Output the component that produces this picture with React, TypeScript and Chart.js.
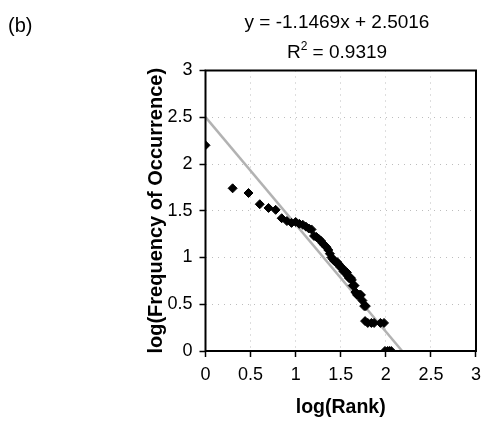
import React, { useEffect, useRef } from "react";
import { Chart, registerables } from "chart.js";

Chart.register(...registerables);

// log(Rank) values of the plotted points
const rankLog = [
  0, 0.301, 0.477, 0.602, 0.699, 0.778, 0.845, 0.903, 0.954, 1.0,
  1.041, 1.079, 1.114, 1.146, 1.176, 1.204, 1.23, 1.255, 1.279, 1.301,
  1.322, 1.342, 1.362, 1.38, 1.398, 1.415, 1.431, 1.447, 1.462, 1.477,
  1.491, 1.505, 1.519, 1.531, 1.544, 1.556, 1.568, 1.58, 1.591, 1.602,
  1.613, 1.623, 1.633, 1.643, 1.653, 1.663, 1.672, 1.681, 1.69, 1.699,
  1.708, 1.716, 1.724, 1.74, 1.76, 1.778, 1.77, 1.8, 1.84, 1.87,
  1.94, 1.98, 1.99, 2.02, 2.04, 2.06,
];
// log(Frequency of Occurrence) values of the plotted points
const freqLog = [
  2.2, 1.74, 1.69, 1.57, 1.53, 1.51, 1.42, 1.39, 1.37, 1.38,
  1.36, 1.35, 1.33, 1.31, 1.3, 1.23, 1.22, 1.2, 1.18, 1.15,
  1.13, 1.11, 1.08, 1.04, 1.0, 0.98, 0.96, 0.95, 0.95, 0.93,
  0.9, 0.9, 0.88, 0.85, 0.85, 0.85, 0.84, 0.8, 0.78, 0.78,
  0.78, 0.76, 0.7, 0.7, 0.7, 0.63, 0.62, 0.6, 0.6, 0.6,
  0.6, 0.6, 0.6, 0.54, 0.48, 0.48, 0.32, 0.3, 0.3, 0.3,
  0.3, 0.3, 0, 0, 0, 0,
];

// Linear trendline
const trendSlope = -1.1469;
const trendIntercept = 2.5016;
const trendX = [0, 2.181];
const r2Value = "0.9319";
const panelLabel = "(b)";

const xAxisTitle = "log(Rank)";
const yAxisTitle = "log(Frequency of Occurrence)";
const axisMin = 0;
const axisMax = 3;
const axisStep = 0.5;

const FONT = "'Liberation Sans', Arial, sans-serif";

export default function App() {
  const canvasRef = useRef<HTMLCanvasElement | null>(null);

  useEffect(() => {
    document.body.style.margin = "0";
    const canvas = canvasRef.current;
    if (!canvas) return;

    const points = rankLog.map((x, i) => ({ x, y: freqLog[i] }));
    const trend = trendX.map((x) => ({ x, y: trendSlope * x + trendIntercept }));
    const equation = `y = ${trendSlope}x + ${trendIntercept}`;

    const overlay = {
      id: "overlay",
      afterDraw(chart: any) {
        const { ctx, chartArea } = chart;
        ctx.save();
        ctx.strokeStyle = "#000";
        ctx.lineWidth = 2;
        ctx.strokeRect(
          chartArea.left,
          chartArea.top,
          chartArea.right - chartArea.left,
          chartArea.bottom - chartArea.top
        );
        ctx.fillStyle = "#000";
        ctx.textBaseline = "alphabetic";
        ctx.font = `20px ${FONT}`;
        ctx.textAlign = "left";
        ctx.fillText(panelLabel, 8, 32);
        const cx = 337;
        ctx.font = `19px ${FONT}`;
        ctx.textAlign = "center";
        ctx.fillText(equation, cx, 28);
        ctx.textAlign = "left";
        const partR = "R";
        const partRest = ` = ${r2Value}`;
        ctx.font = `19px ${FONT}`;
        const wR = ctx.measureText(partR).width;
        const wRest = ctx.measureText(partRest).width;
        ctx.font = `12px ${FONT}`;
        const wSup = ctx.measureText("2").width;
        const total = wR + wSup + wRest;
        const x0 = cx - total / 2;
        ctx.font = `19px ${FONT}`;
        ctx.fillText(partR, x0, 58);
        ctx.font = `12px ${FONT}`;
        ctx.fillText("2", x0 + wR, 50);
        ctx.font = `19px ${FONT}`;
        ctx.fillText(partRest, x0 + wR + wSup, 58);
        ctx.restore();
      },
    };

    const gridCommon = {
      color: "rgba(90,90,90,0.4)",
      lineWidth: 1,
      drawTicks: true,
      tickLength: 6,
      tickColor: "#000",
      tickWidth: 1.5,
      tickBorderDash: [],
    };
    const borderCommon = { display: false, dash: [1, 5] };
    const fmt = (v: any) => `${Number(v)}`;

    const chart = new Chart(canvas, {
      type: "scatter",
      data: {
        datasets: [
          {
            type: "line",
            data: trend,
            borderColor: "rgba(170,170,170,0.9)",
            borderWidth: 2.5,
            pointRadius: 0,
            fill: false,
            order: 2,
          } as any,
          {
            data: points,
            pointStyle: "rectRot",
            pointRadius: 4.5,
            backgroundColor: "#000",
            borderColor: "#000",
            borderWidth: 1,
            order: 1,
          },
        ],
      },
      options: {
        animation: false,
        responsive: false,
        layout: { padding: { left: 144, top: 70.5, right: 6, bottom: 0 } },
        plugins: {
          legend: { display: false },
          tooltip: { enabled: false },
          title: { display: false },
        },
        scales: {
          x: {
            type: "linear",
            min: axisMin,
            max: axisMax,
            border: borderCommon as any,
            grid: gridCommon as any,
            ticks: {
              stepSize: axisStep,
              color: "#000",
              font: { family: FONT, size: 18 },
              padding: 7,
              maxRotation: 0,
              callback: fmt,
            },
            title: {
              display: true,
              text: xAxisTitle,
              color: "#000",
              font: { family: FONT, size: 19.5, weight: "bold" },
              padding: { top: 0, bottom: 2 },
            },
            afterFit(scale: any) {
              scale.height = 70;
            },
          },
          y: {
            type: "linear",
            min: axisMin,
            max: axisMax,
            border: borderCommon as any,
            grid: gridCommon as any,
            ticks: {
              stepSize: axisStep,
              color: "#000",
              font: { family: FONT, size: 18 },
              padding: 7,
              callback: fmt,
            },
            title: {
              display: true,
              text: yAxisTitle,
              color: "#000",
              font: { family: FONT, size: 20, weight: "bold" },
              padding: { top: 0, bottom: 0 },
            },
            afterFit(scale: any) {
              scale.width = 61.5;
            },
          },
        },
      },
      plugins: [overlay],
    });

    return () => chart.destroy();
  }, []);

  return (
    <div style={{ width: 488, height: 421 }}>
      <canvas ref={canvasRef} width={488} height={421} />
    </div>
  );
}
